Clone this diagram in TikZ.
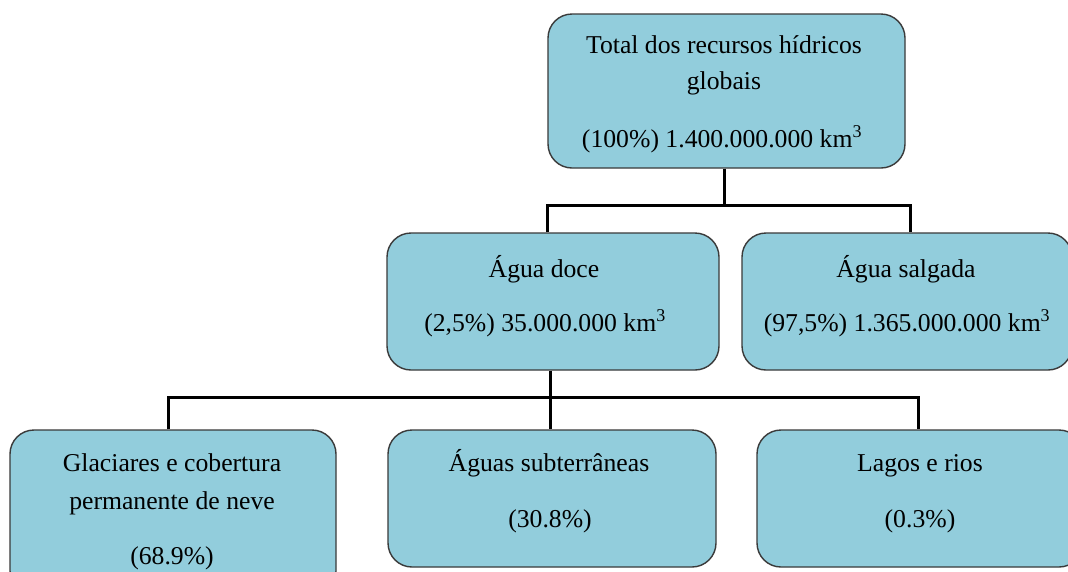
\documentclass[tikz,border=0pt]{standalone}
\usepackage{fontspec}
\setmainfont{Liberation Serif}
\begin{document}
\begin{tikzpicture}[x=1pt,y=-1pt,
  box/.style={draw=boxline,fill=boxfill,line width=1.4pt,rounded corners=24pt,inner sep=0pt},
  conn/.style={draw=black,line width=3pt},
  txt/.style={anchor=base,inner sep=0pt,font=\fontsize{25.7}{30}\selectfont}]
\definecolor{boxfill}{HTML}{92CDDC}
\definecolor{boxline}{HTML}{3A3A3A}
\path[use as bounding box] (0,0) rectangle (1068,571);
\clip (0,0) rectangle (1068,571);
\fill[white] (0,0) rectangle (1068,571);
% boxes
\node[box,minimum width=357pt,minimum height=154pt] (top) at (726.5,91) {};
\node[box,minimum width=332pt,minimum height=137pt] (doce) at (553,301.5) {};
\node[box,minimum width=330pt,minimum height=137pt] (salg) at (907,301.5) {};
\node[box,minimum width=326pt,minimum height=165pt] (glac) at (173,512.5) {};
\node[box,minimum width=328pt,minimum height=137pt] (subt) at (552,498.5) {};
\node[box,minimum width=326pt,minimum height=137pt] (lago) at (920,498.5) {};
% texts
\node[txt] (t1) at (724,53) {Total dos recursos hídricos};
\node[txt] (t2) at (724,89) {globais};
\node[txt] (t3) at (722,147) {(100\%) 1.400.000.000 km\textsuperscript{3}};
\node[txt] (d1) at (544,277) {Água doce};
\node[txt] (d2) at (545,331) {(2,5\%) 35.000.000 km\textsuperscript{3}};
\node[txt] (s1) at (906,277) {Água salgada};
\node[txt] (s2) at (907,331) {(97,5\%) 1.365.000.000 km\textsuperscript{3}};
\node[txt] (g1) at (172,471) {Glaciares e cobertura};
\node[txt] (g2) at (172,509) {permanente de neve};
\node[txt] (g3) at (172,564) {(68.9\%)};
\node[txt] (u1) at (549,471) {Águas subterrâneas};
\node[txt] (u2) at (550,527) {(30.8\%)};
\node[txt] (l1) at (920,471) {Lagos e rios};
\node[txt] (l2) at (920,527) {(0.3\%)};
% connectors
\coordinate (j1) at (724,205);
\draw[conn] (top.south -| j1) -- (j1);
\draw[conn] (doce.north -| 547,0) |- (j1) -| (salg.north -| 910,0);
\draw[conn] (doce.south -| 550,0) -- (subt.north -| 550,0);
\coordinate (j2) at (550,397);
\draw[conn] (glac.north -| 168,0) |- (j2) -| (lago.north -| 918,0);
\end{tikzpicture}
\end{document}
